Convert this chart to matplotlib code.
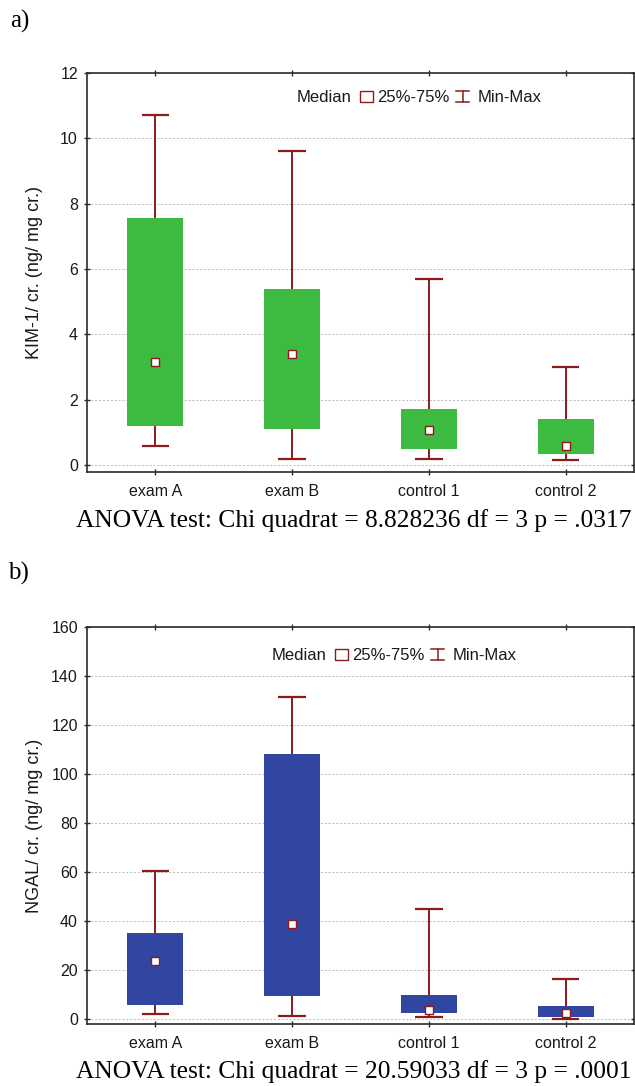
import numpy as np
import matplotlib
matplotlib.use("Agg")
import matplotlib.pyplot as plt
from matplotlib.patches import Rectangle
from matplotlib.lines import Line2D

# ── data ─────────────────────────────────────────────────────────────────────
groups = ["exam A", "exam B", "control 1", "control 2"]

kim_min    = [0.6, 0.2, 0.18, 0.15]
kim_q1     = [1.2, 1.1, 0.48, 0.33]
kim_median = [3.16, 3.4, 1.07, 0.58]
kim_q3     = [7.55, 5.4, 1.72, 1.4]
kim_max    = [10.7, 9.6, 5.7, 3.0]

ngal_min    = [2.0, 1.4, 0.9, 0.2]
ngal_q1     = [5.7, 9.4, 2.4, 0.9]
ngal_median = [23.7, 38.8, 3.8, 2.6]
ngal_q3     = [35.0, 108.0, 9.9, 5.5]
ngal_max    = [60.5, 131.3, 44.9, 16.3]

kim_ticks = [0, 2, 4, 6, 8, 10, 12]
ngal_ticks = [0, 20, 40, 60, 80, 100, 120, 140, 160]

# ── style ────────────────────────────────────────────────────────────────────
SANS = "Liberation Sans"
SERIF = "Liberation Serif"
WHISK = "#8e1b1b"
GREEN = "#3dbb41"
BLUE = "#3046a0"
FRAME = "#2b2b2b"
TXT = "#1a1a1a"

W, H = 635, 1086
fig = plt.figure(figsize=(W / 100, H / 100), dpi=100)


def px_axes(left, top, right, bottom):
    return [left / W, 1 - bottom / H, (right - left) / W, (bottom - top) / H]


def draw_boxes(ax, lo, q1, med, q3, hi, color, ylim, ticks, ylabel):
    x = np.arange(len(groups))
    cap = 0.1
    bw = 0.41
    ax.vlines(x, lo, hi, color=WHISK, lw=1.4, zorder=2)
    ax.hlines(lo, x - cap, x + cap, color=WHISK, lw=1.6, zorder=2)
    ax.hlines(hi, x - cap, x + cap, color=WHISK, lw=1.6, zorder=2)
    ax.bar(x, np.array(q3) - np.array(q1), bottom=q1, width=bw,
           color=color, edgecolor="none", zorder=3)
    ax.plot(x, med, ls="none", marker="s", ms=5.6, mfc="white",
            mec=WHISK, mew=1.0, zorder=4)

    ax.set_xlim(-0.5, 3.5)
    ax.set_ylim(*ylim)
    ax.set_yticks(ticks)
    ax.set_xticks(x)
    ax.set_xticklabels(groups)
    ax.grid(axis="y", color="#bbbbbb", ls=(0, (2, 2)), lw=0.7, zorder=0)
    ax.set_axisbelow(True)
    for s in ax.spines.values():
        s.set_color(FRAME)
        s.set_linewidth(1.2)
    ax.tick_params(axis="both", labelsize=11.5, colors=FRAME, labelcolor=TXT,
                   direction="inout", length=5, width=1.0)
    ax.tick_params(axis="x", pad=6, top=True)
    ax.tick_params(axis="y", pad=4, right=True)
    for lab in ax.get_xticklabels() + ax.get_yticklabels():
        lab.set_family(SANS)
    ax.set_ylabel(ylabel, fontsize=13, family=SANS, color=TXT)
    ax.yaxis.set_label_coords(-0.08, 0.5)


def draw_legend(x0, base):
    """Statistica-style inline legend; x0/base are in figure pixels."""
    r = fig.canvas.get_renderer()
    def fx(v): return v / W
    def fy(v): return 1 - v / H
    x = x0
    t = fig.text(fx(x), fy(base), "Median", family=SANS, fontsize=12,
                 color=TXT, va="baseline")
    x += t.get_window_extent(r).width + 8
    fig.patches.append(Rectangle((fx(x), fy(base)), 13 / W, 11 / H,
                                 transform=fig.transFigure, fill=False,
                                 ec=WHISK, lw=1.0))
    x += 17
    t = fig.text(fx(x), fy(base), "25%-75%", family=SANS, fontsize=12,
                 color=TXT, va="baseline")
    x += t.get_window_extent(r).width + 5
    cx = x + 8.5
    for xs, ys in [((cx, cx), (base, base - 11)),
                   ((cx - 6.5, cx + 6.5), (base, base)),
                   ((cx - 6.5, cx + 6.5), (base - 11, base - 11))]:
        fig.lines.append(Line2D([fx(v) for v in xs], [fy(v) for v in ys],
                                transform=fig.transFigure, color=WHISK, lw=1.1))
    x += 23
    fig.text(fx(x), fy(base), "Min-Max", family=SANS, fontsize=12,
             color=TXT, va="baseline")


ax_a = fig.add_axes(px_axes(87, 73, 634, 471.7))
draw_boxes(ax_a, kim_min, kim_q1, kim_median, kim_q3, kim_max, GREEN,
           (-0.2, 12), kim_ticks, "KIM-1/ cr. (ng/ mg cr.)")

ax_b = fig.add_axes(px_axes(87, 627, 634, 1024))
draw_boxes(ax_b, ngal_min, ngal_q1, ngal_median, ngal_q3, ngal_max, BLUE,
           (-2, 160), ngal_ticks, "NGAL/ cr. (ng/ mg cr.)")

draw_legend(297, 102)
draw_legend(272, 660)

fig.text(10 / W, 1 - 28 / H, "a)", family=SERIF, fontsize=18, va="baseline")
fig.text(8 / W, 1 - 580 / H, "b)", family=SERIF, fontsize=18, va="baseline")
fig.text(632 / W, 1 - 527 / H,
         "ANOVA test: Chi quadrat = 8.828236 df = 3 p = .0317",
         family=SERIF, fontsize=18.35, ha="right", va="baseline")
fig.text(632 / W, 1 - 1078 / H,
         "ANOVA test: Chi quadrat = 20.59033 df = 3 p = .0001",
         family=SERIF, fontsize=18.35, ha="right", va="baseline")

fig.savefig("out.png", dpi=100)
